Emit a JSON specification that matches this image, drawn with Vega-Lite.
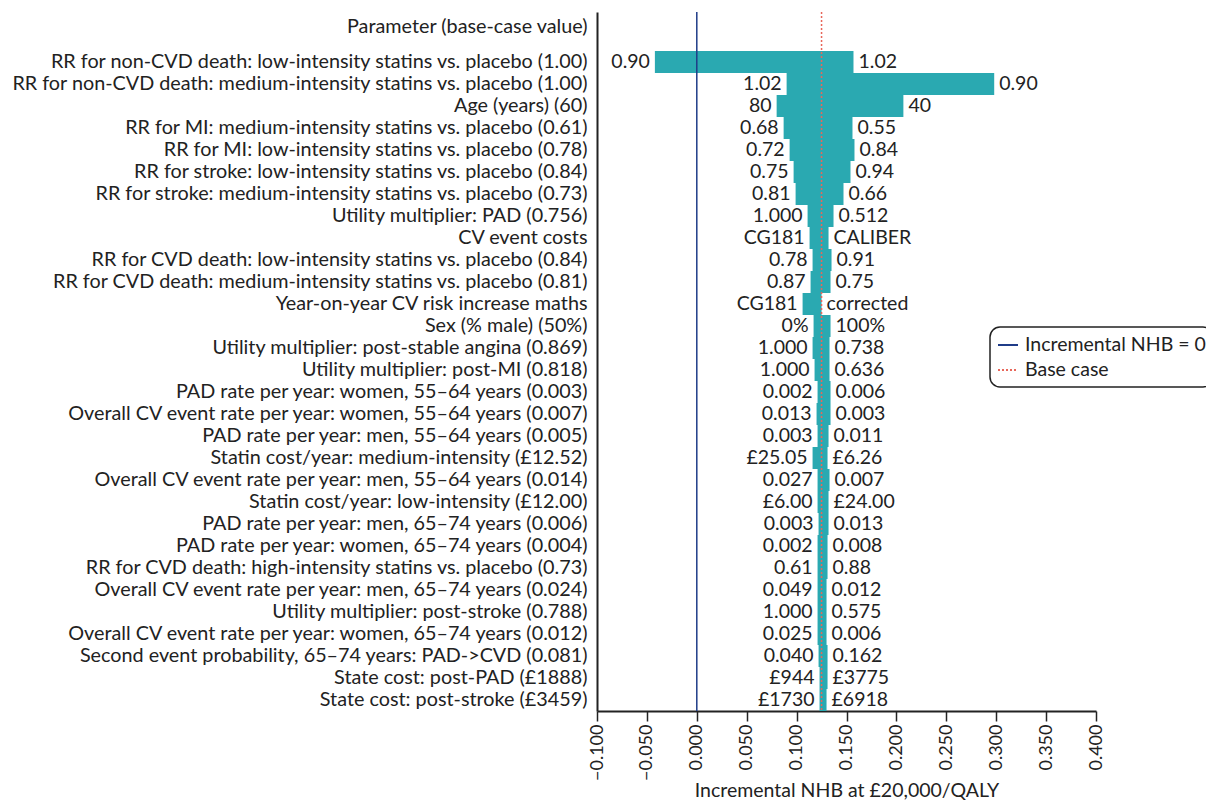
{
  "$schema": "https://vega.github.io/schema/vega-lite/v6.json",
  "width": 499,
  "height": 699,
  "autosize": {"type": "none"},
  "padding": {"left": 597, "top": 12, "right": 110, "bottom": 92},
  "background": "white",
  "config": {
    "font": "Lato",
    "view": {"stroke": null},
    "axis": {"grid": false, "labelFont": "Lato", "titleFont": "Lato", "labelColor": "#222", "titleColor": "#222", "labelFontSize": 19.8, "titleFontSize": 19.5, "titleFontWeight": "normal", "domainColor": "#222", "tickColor": "#222"},
    "legend": {"labelFont": "Lato", "labelFontSize": 19.5, "labelColor": "#222"}
  },
  "data": {"values": [
    {"param": "RR for non-CVD death: low-intensity statins vs. placebo (1.00)", "lo": -0.042, "hi": 0.157, "loLabel": "0.90", "hiLabel": "1.02"},
    {"param": "RR for non-CVD death: medium-intensity statins vs. placebo (1.00)", "lo": 0.090, "hi": 0.298, "loLabel": "1.02", "hiLabel": "0.90"},
    {"param": "Age (years) (60)", "lo": 0.080, "hi": 0.207, "loLabel": "80", "hiLabel": "40"},
    {"param": "RR for MI: medium-intensity statins vs. placebo (0.61)", "lo": 0.087, "hi": 0.156, "loLabel": "0.68", "hiLabel": "0.55"},
    {"param": "RR for MI: low-intensity statins vs. placebo (0.78)", "lo": 0.093, "hi": 0.158, "loLabel": "0.72", "hiLabel": "0.84"},
    {"param": "RR for stroke: low-intensity statins vs. placebo (0.84)", "lo": 0.097, "hi": 0.154, "loLabel": "0.75", "hiLabel": "0.94"},
    {"param": "RR for stroke: medium-intensity statins vs. placebo (0.73)", "lo": 0.099, "hi": 0.147, "loLabel": "0.81", "hiLabel": "0.66"},
    {"param": "Utility multiplier: PAD (0.756)", "lo": 0.111, "hi": 0.137, "loLabel": "1.000", "hiLabel": "0.512"},
    {"param": "CV event costs", "lo": 0.113, "hi": 0.132, "loLabel": "CG181", "hiLabel": "CALIBER"},
    {"param": "RR for CVD death: low-intensity statins vs. placebo (0.84)", "lo": 0.116, "hi": 0.135, "loLabel": "0.78", "hiLabel": "0.91"},
    {"param": "RR for CVD death: medium-intensity statins vs. placebo (0.81)", "lo": 0.114, "hi": 0.134, "loLabel": "0.87", "hiLabel": "0.75"},
    {"param": "Year-on-year CV risk increase maths", "lo": 0.106, "hi": 0.125, "loLabel": "CG181", "hiLabel": "corrected"},
    {"param": "Sex (% male) (50%)", "lo": 0.117, "hi": 0.134, "loLabel": "0%", "hiLabel": "100%"},
    {"param": "Utility multiplier: post-stable angina (0.869)", "lo": 0.116, "hi": 0.133, "loLabel": "1.000", "hiLabel": "0.738"},
    {"param": "Utility multiplier: post-MI (0.818)", "lo": 0.118, "hi": 0.133, "loLabel": "1.000", "hiLabel": "0.636"},
    {"param": "PAD rate per year: women, 55–64 years (0.003)", "lo": 0.121, "hi": 0.134, "loLabel": "0.002", "hiLabel": "0.006"},
    {"param": "Overall CV event rate per year: women, 55–64 years (0.007)", "lo": 0.120, "hi": 0.134, "loLabel": "0.013", "hiLabel": "0.003"},
    {"param": "PAD rate per year: men, 55–64 years (0.005)", "lo": 0.121, "hi": 0.132, "loLabel": "0.003", "hiLabel": "0.011"},
    {"param": "Statin cost/year: medium-intensity (£12.52)", "lo": 0.116, "hi": 0.131, "loLabel": "£25.05", "hiLabel": "£6.26"},
    {"param": "Overall CV event rate per year: men, 55–64 years (0.014)", "lo": 0.121, "hi": 0.133, "loLabel": "0.027", "hiLabel": "0.007"},
    {"param": "Statin cost/year: low-intensity (£12.00)", "lo": 0.121, "hi": 0.132, "loLabel": "£6.00", "hiLabel": "£24.00"},
    {"param": "PAD rate per year: men, 65–74 years (0.006)", "lo": 0.122, "hi": 0.132, "loLabel": "0.003", "hiLabel": "0.013"},
    {"param": "PAD rate per year: women, 65–74 years (0.004)", "lo": 0.121, "hi": 0.131, "loLabel": "0.002", "hiLabel": "0.008"},
    {"param": "RR for CVD death: high-intensity statins vs. placebo (0.73)", "lo": 0.121, "hi": 0.131, "loLabel": "0.61", "hiLabel": "0.88"},
    {"param": "Overall CV event rate per year: men, 65–74 years (0.024)", "lo": 0.121, "hi": 0.130, "loLabel": "0.049", "hiLabel": "0.012"},
    {"param": "Utility multiplier: post-stroke (0.788)", "lo": 0.121, "hi": 0.130, "loLabel": "1.000", "hiLabel": "0.575"},
    {"param": "Overall CV event rate per year: women, 65–74 years (0.012)", "lo": 0.121, "hi": 0.130, "loLabel": "0.025", "hiLabel": "0.006"},
    {"param": "Second event probability, 65–74 years: PAD->CVD (0.081)", "lo": 0.122, "hi": 0.131, "loLabel": "0.040", "hiLabel": "0.162"},
    {"param": "State cost: post-PAD (£1888)", "lo": 0.123, "hi": 0.131, "loLabel": "£944", "hiLabel": "£3775"},
    {"param": "State cost: post-stroke (£3459)", "lo": 0.123, "hi": 0.130, "loLabel": "£1730", "hiLabel": "£6918"}
  ]},
  "layer": [
    {
      "mark": {"type": "bar", "color": "#2aa9b1"},
      "encoding": {
        "y": {"field": "param", "type": "nominal", "sort": null,
              "scale": {"paddingInner": 0, "paddingOuter": 0.886, "align": 1},
              "axis": {"ticks": false, "labelPadding": 10, "labelLimit": 0, "domainWidth": 2,
                       "title": "Parameter (base-case value)", "titleFontSize": 19.8, "titleAngle": 0, "titleAlign": "right",
                       "titleBaseline": "middle", "titleX": -10, "titleY": 14}},
        "x": {"field": "lo", "type": "quantitative",
              "scale": {"domain": [-0.1, 0.4], "nice": false, "zero": false},
              "axis": {"values": [-0.1, -0.05, 0, 0.05, 0.1, 0.15, 0.2, 0.25, 0.3, 0.35, 0.4],
                       "format": ".3f", "labelAngle": -90, "labelFontSize": 18, "tickSize": 10, "tickWidth": 1.5,
                       "domainWidth": 2, "labelPadding": 3, "titlePadding": 1,
                       "title": "Incremental NHB at £20,000/QALY"}},
        "x2": {"field": "hi"}
      }
    },
    {
      "mark": {"type": "text", "align": "right", "baseline": "middle", "dx": -5, "fontSize": 19.5, "font": "Lato", "color": "#222"},
      "encoding": {
        "y": {"field": "param", "type": "nominal", "sort": null},
        "x": {"field": "lo", "type": "quantitative"},
        "text": {"field": "loLabel"}
      }
    },
    {
      "mark": {"type": "text", "align": "left", "baseline": "middle", "dx": 5, "fontSize": 19.5, "font": "Lato", "color": "#222"},
      "encoding": {
        "y": {"field": "param", "type": "nominal", "sort": null},
        "x": {"field": "hi", "type": "quantitative"},
        "text": {"field": "hiLabel"}
      }
    },
    {
      "data": {"values": [
        {"name": "Incremental NHB = 0", "v": 0},
        {"name": "Base case", "v": 0.125}
      ]},
      "mark": {"type": "rule", "strokeWidth": 1.5},
      "encoding": {
        "x": {"field": "v", "type": "quantitative"},
        "color": {"field": "name", "type": "nominal",
                  "scale": {"domain": ["Incremental NHB = 0", "Base case"], "range": ["#1f3c88", "#e8675a"]},
                  "legend": {"title": null, "orient": "none", "legendX": 393, "legendY": 315,
                             "strokeColor": "#222", "cornerRadius": 10, "fillColor": "white",
                             "padding": 7, "symbolType": "stroke", "symbolSize": 400, "symbolStrokeWidth": 2,
                             "rowPadding": 4, "labelFontSize": 19.5, "labelOffset": 6, "labelLimit": 0,
                             "encode": {"legend": {"update": {"strokeWidth": {"value": 1.5}}}}}},
        "strokeDash": {"field": "name", "type": "nominal",
                       "scale": {"domain": ["Incremental NHB = 0", "Base case"], "range": [[1, 0], [2, 2]]},
                       "legend": {"title": null}}
      }
    }
  ]
}
